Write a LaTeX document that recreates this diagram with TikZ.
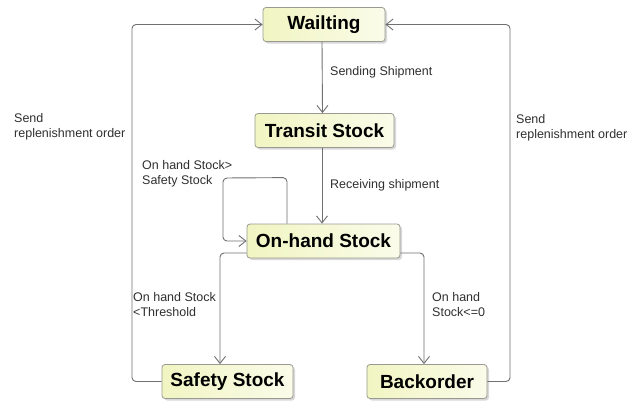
\documentclass[tikz,border=0pt]{standalone}
\usepackage{fontspec}
\setmainfont{Liberation Sans}
\usetikzlibrary{arrows.meta,shadows}
\definecolor{statefill}{HTML}{F1F5C2}
\definecolor{stateedge}{HTML}{9A9A90}
\definecolor{wire}{HTML}{707070}
\definecolor{labeltext}{HTML}{303030}
\begin{document}
\begin{tikzpicture}[x=1pt,y=-1pt,
  state/.style={draw=stateedge, line width=0.8pt, rounded corners=3pt,
    left color=statefill, right color=statefill!35!white,
    minimum height=34pt, inner xsep=8pt,
    font=\bfseries\fontsize{19}{22}\selectfont, text=black,
    drop shadow={shadow xshift=2pt, shadow yshift=-2pt, opacity=0.25, fill=black!60}},
  flow/.style={draw=wire, line width=0.9pt, rounded corners=4pt,
    -{Straight Barb[length=7pt,width=11pt,line width=0.9pt]}},
  lbl/.style={font=\fontsize{12.5}{15}\selectfont, align=left, anchor=west,
    text=labeltext, inner sep=0pt}]

\useasboundingbox[fill=white] (0,0) rectangle (634,408);

% states
\node[state, minimum width=122pt] (wait)    at (324,24.5)   {Wailting};
\node[state, minimum width=139pt] (transit) at (324.5,130.5) {Transit Stock};
\node[state, minimum width=153pt] (onhand)  at (323.5,241)  {On-hand Stock};
\node[state, minimum width=131pt] (safety)  at (227.5,381.5) {Safety Stock};
\node[state, minimum width=120pt] (back)    at (427,381.5)  {Backorder};

% columns of the outer return paths
\coordinate (lc) at (132,0);
\coordinate (rc) at (510,0);

% transitions
\draw[flow] ([xshift=-2pt]wait.south) -- ([xshift=-2pt]transit.north);
\draw[flow] ([xshift=-2.5pt]transit.south) -- ([xshift=-1.5pt]onhand.north);
\draw[flow] ([xshift=-36.5pt]onhand.north) -- ++(0,-46) -- (223,178) |- (onhand.west);
\draw[flow] ([yshift=-12pt]onhand.west) -| ([xshift=-7.5pt]safety.north);
\draw[flow] ([yshift=-12pt]onhand.east) -| ([xshift=-3pt]back.north);
\draw[flow] (safety.west) -| (lc |- wait.west) -- (wait.west);
\draw[flow] (back.east) -| (rc |- wait.east) -- (wait.east);

% transition labels
\node[lbl] (lsend)  at (330,72)  {Sending Shipment};
\node[lbl] (lrecv)  at (330,185) {Receiving shipment};
\node[lbl] (lloop)  at (142,174) {On hand Stock>\\Safety Stock};
\node[lbl] (lthr)   at (133,305) {On hand Stock\\<Threshold};
\node[lbl] (lzero)  at (432,305) {On hand\\Stock<=0};
\node[lbl] (lrepl1) at (14,127)  {Send\\replenishment order};
\node[lbl] (lrepl2) at (516,128) {Send\\replenishment order};
\end{tikzpicture}
\end{document}
